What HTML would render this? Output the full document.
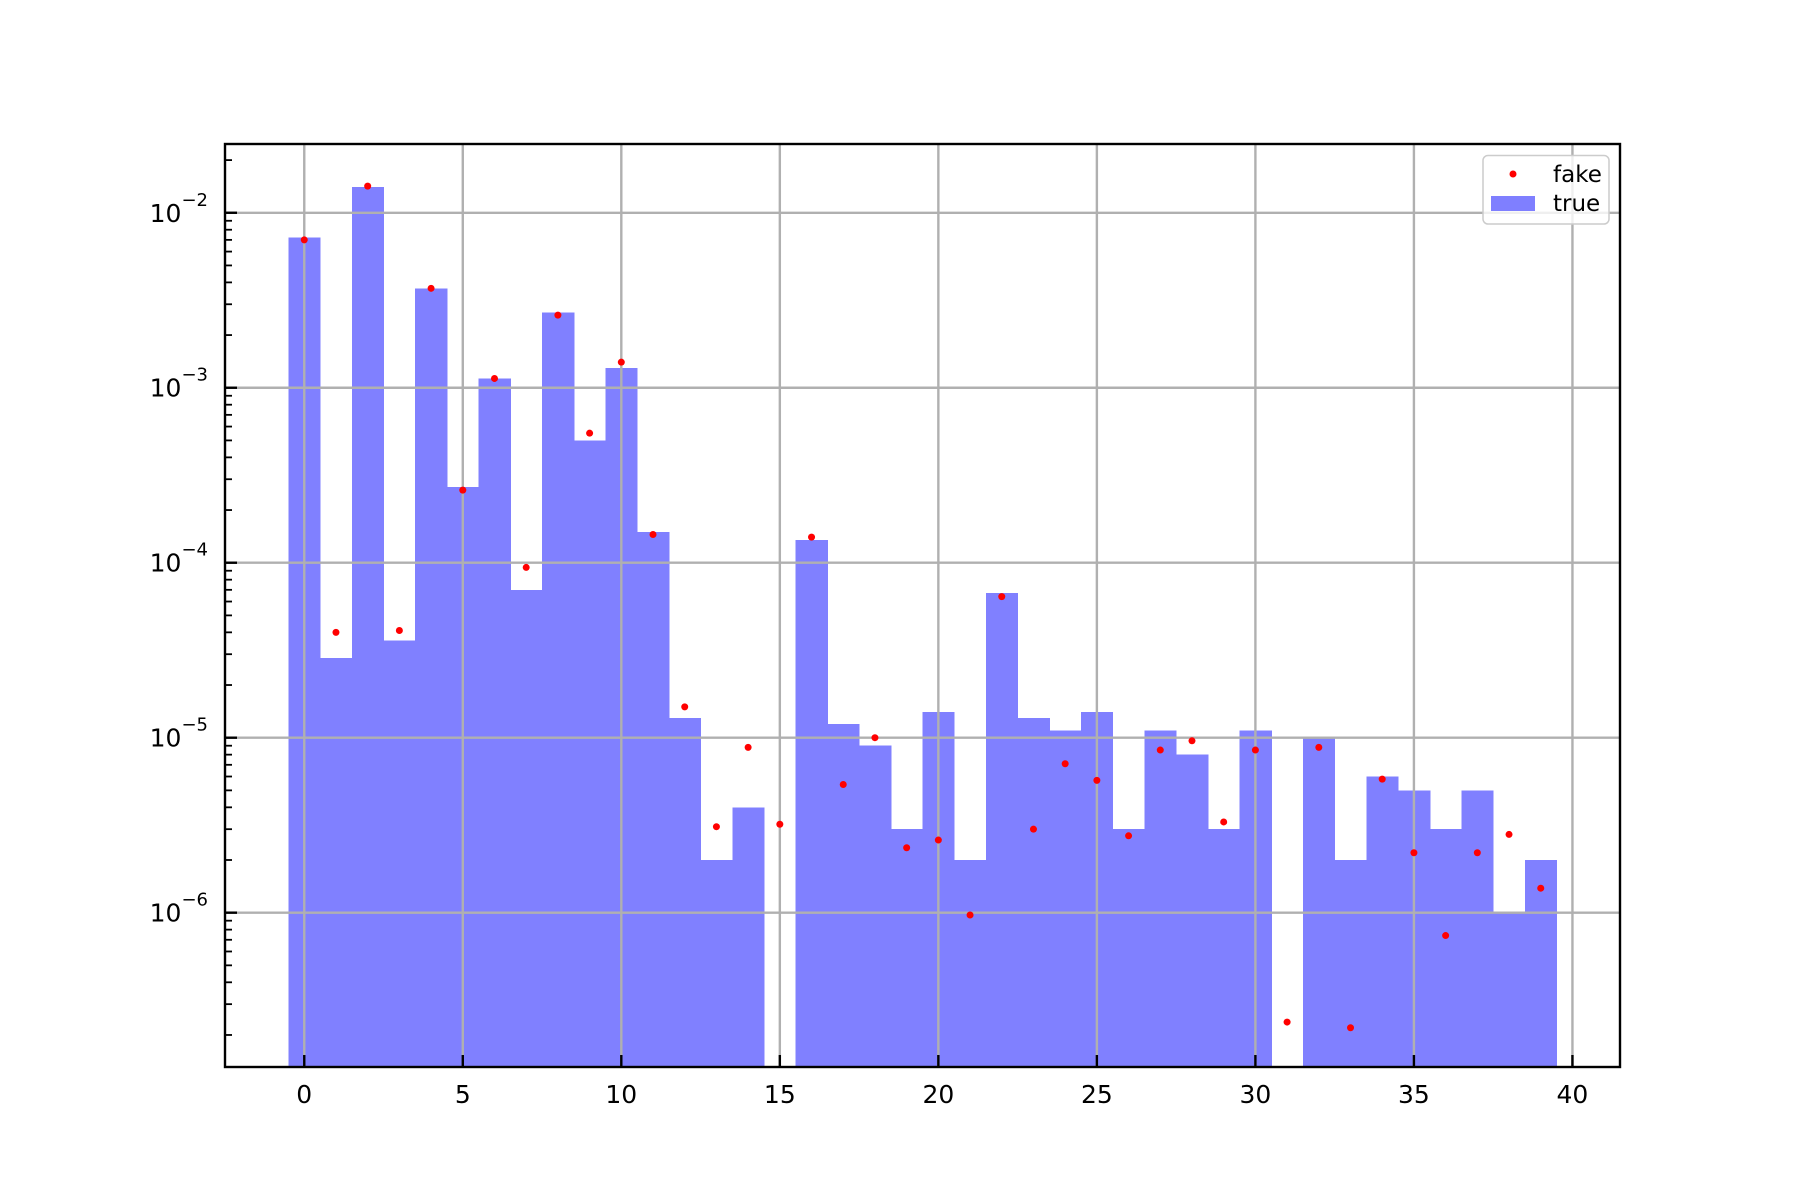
<!DOCTYPE html>
<html><head><meta charset="utf-8"><style>
html,body{margin:0;padding:0;background:#fff}
svg{display:block;font-family:"DejaVu Sans","Liberation Sans",sans-serif}
</style></head><body>
<svg id="chart" width="1800" height="1200" viewBox="0 0 1800 1200" xmlns="http://www.w3.org/2000/svg">
<rect width="1800" height="1200" fill="#fff"/>
<g id="bars" shape-rendering="crispEdges"></g>
<g id="grid"></g>
<g id="dots"></g>
<g id="axes"></g>
<g>
<rect x="1483" y="155.5" width="126" height="68.5" rx="5" fill="#fff" fill-opacity="0.8" stroke="#ccc" stroke-width="1.5"/>
<circle cx="1513" cy="174" r="3.5" fill="red"/>
<text x="1553" y="182" font-size="23">fake</text>
<rect x="1491" y="196" width="44" height="15" fill="#0000ff" fill-opacity="0.5"/>
<text x="1553" y="211" font-size="23">true</text>
</g>
</svg>
<script>
const categories = [0,1,2,3,4,5,6,7,8,9,10,11,12,13,14,15,16,17,18,19,20,21,22,23,24,25,26,27,28,29,30,31,32,33,34,35,36,37,38,39];
const trueValues = [7.2e-3,2.85e-5,1.4e-2,3.6e-5,3.7e-3,2.7e-4,1.13e-3,7.0e-5,2.7e-3,5.0e-4,1.3e-3,1.5e-4,1.3e-5,2e-6,4e-6,0,1.35e-4,1.2e-5,9e-6,3e-6,1.4e-5,2e-6,6.7e-5,1.3e-5,1.1e-5,1.4e-5,3e-6,1.1e-5,8e-6,3e-6,1.1e-5,0,1e-5,2e-6,6e-6,5e-6,3e-6,5e-6,1e-6,2e-6];
const fakeValues = [7.0e-3,4.0e-5,1.42e-2,4.1e-5,3.7e-3,2.6e-4,1.13e-3,9.4e-5,2.6e-3,5.5e-4,1.4e-3,1.45e-4,1.5e-5,3.1e-6,8.8e-6,3.2e-6,1.4e-4,5.4e-6,1.0e-5,2.35e-6,2.6e-6,9.7e-7,6.4e-5,3.0e-6,7.1e-6,5.7e-6,2.75e-6,8.5e-6,9.6e-6,3.3e-6,8.5e-6,2.37e-7,8.8e-6,2.2e-7,5.8e-6,2.2e-6,7.4e-7,2.2e-6,2.8e-6,1.38e-6];
const xTicks = [0,5,10,15,20,25,30,35,40];
const yTickExps = [-6,-5,-4,-3,-2];

const L=225,R=1620,T=144,B=1067;
const xMin=-2.5,xMax=41.5,yMinE=-6.882,yMaxE=-1.607;
const NS="http://www.w3.org/2000/svg";
function X(v){return L+(v-xMin)/(xMax-xMin)*(R-L);}
function Y(v){const e=Math.log10(v);return B-(e-yMinE)/(yMaxE-yMinE)*(B-T);}
function mk(tag,attrs,parent){const e=document.createElementNS(NS,tag);for(const k in attrs)e.setAttribute(k,attrs[k]);parent.appendChild(e);return e;}
const grid=document.getElementById('grid'),bars=document.getElementById('bars'),dots=document.getElementById('dots'),axes=document.getElementById('axes');

xTicks.forEach(t=>{
  const g=mk('line',{x1:X(t),x2:X(t),y1:T,y2:B,stroke:'#b0b0b0','stroke-width':2.4},grid);
  
  
});
yTickExps.forEach(e=>{
  const y=Y(Math.pow(10,e));
  const g=mk('line',{x1:L,x2:R,y1:y,y2:y,stroke:'#b0b0b0','stroke-width':2.4},grid);
  
  
});

categories.forEach((c,i)=>{
  const v=trueValues[i];
  if(!(v>0))return;
  const top=Math.max(Y(v),T);
  const r=mk('rect',{x:X(c-0.5),y:top,width:X(c+0.5)-X(c-0.5)+0.5,height:B-top,fill:'#8080ff'},bars);
  
  
});
categories.forEach((c,i)=>{
  const v=fakeValues[i];
  if(!(v>0))return;
  const d=mk('circle',{cx:X(c),cy:Y(v),r:3.5,fill:'red'},dots);
  
  
});

xTicks.forEach(t=>{
  mk('line',{x1:X(t),x2:X(t),y1:B,y2:B-12,stroke:'#000','stroke-width':2.4},axes);
  const tx=mk('text',{x:X(t),y:1103,'font-size':25,'text-anchor':'middle',fill:'#000'},axes);
  tx.textContent=t;
  
  
});
for(let e=-7;e<=-2;e++){
  for(let m=2;m<=9;m++){
    const v=m*Math.pow(10,e),y=Y(v);
    if(y<T||y>B)continue;
    mk('line',{x1:L,x2:L+7,y1:y,y2:y,stroke:'#000','stroke-width':1.8},axes);
  }
}
yTickExps.forEach(e=>{
  const y=Y(Math.pow(10,e));
  mk('line',{x1:L,x2:L+12,y1:y,y2:y,stroke:'#000','stroke-width':2.4},axes);
  const tx=mk('text',{x:208,y:y+9,'font-size':25,'text-anchor':'end',fill:'#000'},axes);
  
  
  const t1=mk('tspan',{},tx);t1.textContent='10';
  const t2=mk('tspan',{dy:-16,'font-size':18},tx);t2.textContent='\u2212'+Math.abs(e);
});
const frame=mk('rect',{x:L,y:T,width:R-L,height:B-T,fill:'none',stroke:'#000','stroke-width':2.4},axes);


</script>
</body></html>
